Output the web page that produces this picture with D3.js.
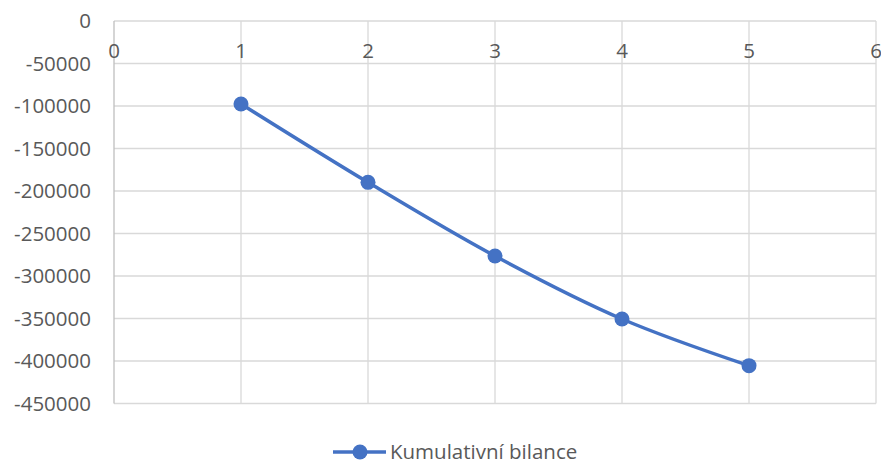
<!DOCTYPE html>
<html>
<head>
<meta charset="utf-8">
<script src="https://cdn.jsdelivr.net/npm/d3@7"></script>
<style>
  body { margin: 0; background: #fff; }
  svg { display: block; font-family: "Open Sans", sans-serif; }
</style>
</head>
<body>
<svg id="chart" width="881" height="463"></svg>
<script>
// data
const years = [1, 2, 3, 4, 5];
const balance = [-97600, -189800, -276500, -350600, -405500];
const xTicks = [0, 1, 2, 3, 4, 5, 6];
const yTicks = [0, -50000, -100000, -150000, -200000, -250000, -300000, -350000, -400000, -450000];
const seriesName = 'Kumulativní bilance';

const svg = d3.select('#chart');
const margin = {top: 21, left: 114};
const fontSize = '20.5px';

const x = d3.scaleLinear().domain([0, 6]).range([0, 762]);
const y = d3.scaleLinear().domain([0, -450000]).range([0, 382.5]);

const g = svg.append('g').attr('transform', `translate(${margin.left},${margin.top})`);

// grid
g.selectAll('.hgrid').data(yTicks).enter().append('line')
    .attr('x1', 0).attr('x2', x(6))
    .attr('y1', d => y(d)).attr('y2', d => y(d))
    .attr('stroke', '#d9d9d9').attr('stroke-width', 1.3);
g.selectAll('.vgrid').data(xTicks).enter().append('line')
    .attr('x1', d => x(d)).attr('x2', d => x(d))
    .attr('y1', 0).attr('y2', y(-450000))
    .attr('stroke', d => d === 0 ? '#bfbfbf' : '#d9d9d9').attr('stroke-width', 1.3);

// y labels
g.selectAll('.ylab').data(yTicks).enter().append('text')
    .attr('x', -23).attr('y', d => y(d))
    .attr('dy', '0.35em')
    .attr('text-anchor', 'end')
    .attr('fill', '#595959').style('font-size', fontSize)
    .text(d => d);

// x labels (axis crosses at 0, on top)
g.selectAll('.xlab').data(xTicks).enter().append('text')
    .attr('x', d => x(d)).attr('y', 30)
    .attr('dy', '0.35em')
    .attr('text-anchor', 'middle')
    .attr('fill', '#595959').style('font-size', fontSize)
    .text(d => d);

const pts = years.map((d, i) => [x(d), y(balance[i])]);
const line = d3.line().curve(d3.curveCatmullRom.alpha(0.5));

g.append('path')
    .attr('d', line(pts))
    .attr('fill', 'none')
    .attr('stroke', '#4472c4')
    .attr('stroke-width', 3.5);

g.selectAll('.dot').data(pts).enter().append('circle')
    .attr('cx', d => d[0]).attr('cy', d => d[1])
    .attr('r', 7.5).attr('fill', '#4472c4');

// legend
const lg = svg.append('g').attr('transform', 'translate(333,452)');
lg.append('line').attr('x1', 0).attr('x2', 53).attr('y1', 0).attr('y2', 0)
    .attr('stroke', '#4472c4').attr('stroke-width', 3.5);
lg.append('circle').attr('cx', 27).attr('cy', 0).attr('r', 7.5).attr('fill', '#4472c4');
lg.append('text').attr('x', 57).attr('y', 0).attr('dy', '0.35em')
    .attr('fill', '#595959').style('font-size', fontSize)
    .text(seriesName);
</script>
</body>
</html>
